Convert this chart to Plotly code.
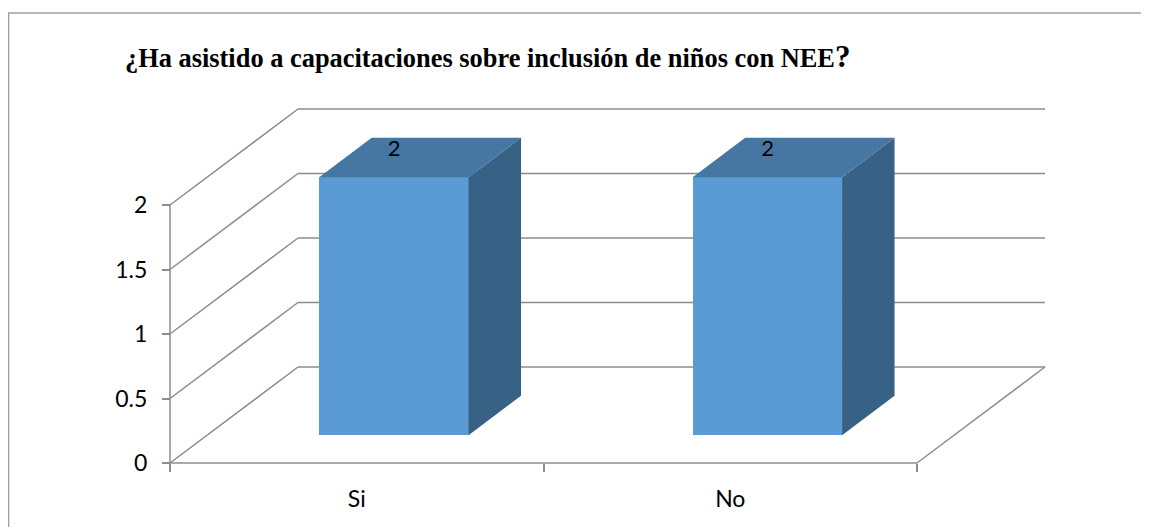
import plotly.graph_objects as go

# ---- data ----
categories = ["Si", "No"]
values = [2, 2]
y_ticks = [0, 0.5, 1, 1.5, 2]
y_tick_labels = ["0", "0.5", "1", "1.5", "2"]
data_labels = ["2", "2"]
title_text = "¿Ha asistido a capacitaciones sobre inclusión de niños con NEE"

# ---- layout geometry (pixels, in page coordinates; the page body adds an 8px margin) ----
OFF = 8
FIG_W, FIG_H = 1149 - OFF, 527 - OFF
def P(p):  # page pixel -> figure pixel
    return p - OFF

PL, PR, PT, PB = P(150), P(1060), P(95), P(480)       # plot area in figure pixels
X_ORIGIN_PX, X_UNIT_PX = P(170), 373.5                # px of category boundary -0.5 ; px per category
Y_ORIGIN_PX, Y_UNIT_PX = P(463), 129                  # px of value 0 ; px per value unit
DEPTH_PX = (128, 96)                                  # projected depth offset (right, up)

def px_to_x(p):
    return -0.5 + (p - X_ORIGIN_PX) / X_UNIT_PX

def px_to_y(p):
    return (Y_ORIGIN_PX - p) / Y_UNIT_PX

def paper_x(p):
    return (p - PL) / (PR - PL)

def paper_y(p):
    return (PB - p) / (PB - PT)

DX = DEPTH_PX[0] / X_UNIT_PX
DY = DEPTH_PX[1] / Y_UNIT_PX
T0, T1 = 0.29, 0.70       # bar depth extent (fraction of full depth)
BAR_W = 0.4

GRID = "#8c8c8c"
FRONT = "#5B9BD5"
TOP = "#4677A3"
SIDE = "#386285"
FONT = "Lato"
FS = 23

xs = list(range(len(categories)))
n = len(categories)
x_left, x_right = -0.5, n - 0.5

fig = go.Figure()

# ---- frame: back wall, side wall, floor ----
shapes = []
def seg(x0, y0, x1, y1, color=GRID, width=1.5):
    shapes.append(dict(type="line", xref="x", yref="y", x0=x0, y0=y0, x1=x1, y1=y1,
                       line=dict(color=color, width=width), layer="below"))

for v in y_ticks:
    seg(x_left + DX, v + DY, x_right + DX, v + DY)   # back wall gridline
    seg(x_left, v, x_left + DX, v + DY)              # side wall diagonal
seg(x_left, 0, x_left, max(y_ticks))                 # value axis (side wall front edge)
seg(x_left, 0, x_right, 0)                           # floor front edge
seg(x_right, 0, x_right + DX, DY)                    # floor right edge

# ---- bars ----
fig.add_trace(go.Bar(
    x=[c + T0 * DX for c in xs], y=values, base=T0 * DY, width=BAR_W,
    marker=dict(color=FRONT, line=dict(width=0)), showlegend=False, hoverinfo="skip"))

for c, v in zip(xs, values):
    l, r = c - BAR_W / 2, c + BAR_W / 2
    fig.add_trace(go.Scatter(   # side face
        x=[r + T0 * DX, r + T1 * DX, r + T1 * DX, r + T0 * DX, r + T0 * DX],
        y=[T0 * DY, T1 * DY, v + T1 * DY, v + T0 * DY, T0 * DY],
        mode="lines", fill="toself", fillcolor=SIDE, line=dict(width=0, color=SIDE),
        showlegend=False, hoverinfo="skip"))
    fig.add_trace(go.Scatter(   # top face
        x=[l + T0 * DX, r + T0 * DX, r + T1 * DX, l + T1 * DX, l + T0 * DX],
        y=[v + T0 * DY, v + T0 * DY, v + T1 * DY, v + T1 * DY, v + T0 * DY],
        mode="lines", fill="toself", fillcolor=TOP, line=dict(width=0, color=TOP),
        showlegend=False, hoverinfo="skip"))

# data labels
fig.add_trace(go.Scatter(
    x=[c + 0.10 for c in xs], y=[v + 0.42 for v in values], text=data_labels,
    mode="text", textfont=dict(family=FONT, size=FS - 1, color="#000000"),
    showlegend=False, hoverinfo="skip", cliponaxis=False))

# chart border (outer frame)
bx = paper_x(0.7)
shapes.append(dict(type="path", xref="paper", yref="paper",
                   path=f"M {bx},{paper_y(FIG_H + 5)} L {bx},{paper_y(P(13))} L {paper_x(FIG_W + 5)},{paper_y(P(13))}",
                   line=dict(color="#a0a0a0", width=1.3)))

fig.update_layout(
    width=FIG_W, height=FIG_H,
    margin=dict(l=PL, r=FIG_W - PR, t=PT, b=FIG_H - PB, pad=0),
    paper_bgcolor="white", plot_bgcolor="rgba(0,0,0,0)",
    shapes=shapes,
    title=dict(
        text=f"<b>{title_text}<span style='font-size:31px'>?</span></b>",
        font=dict(family="Liberation Serif", size=26.4, color="#000000"),
        x=P(125) / FIG_W, xanchor="left", xref="container",
        y=1 - P(58) / FIG_H, yanchor="middle", yref="container"),
    xaxis=dict(
        range=[px_to_x(PL), px_to_x(PR)],
        anchor="free", position=paper_y(Y_ORIGIN_PX),
        tickmode="array", tickvals=xs, ticktext=categories,
        ticks="", ticklabelstandoff=20,
        tickfont=dict(family=FONT, size=FS, color="#000000"),
        minor=dict(tickmode="array", tickvals=[x_left + i for i in range(n + 1)],
                   ticks="outside", ticklen=8, tickcolor=GRID, tickwidth=1.5),
        showgrid=False, zeroline=False, showline=False, fixedrange=True),
    yaxis=dict(
        range=[px_to_y(PB), px_to_y(PT)],
        anchor="free", position=paper_x(X_ORIGIN_PX),
        tickmode="array", tickvals=y_ticks, ticktext=y_tick_labels,
        ticks="outside", ticklen=8, tickcolor=GRID, tickwidth=1.5,
        ticklabelstandoff=10,
        tickfont=dict(family=FONT, size=FS, color="#000000"),
        showgrid=False, zeroline=False, showline=False, fixedrange=True),
    bargap=0,
)

fig.write_html("out.html")
